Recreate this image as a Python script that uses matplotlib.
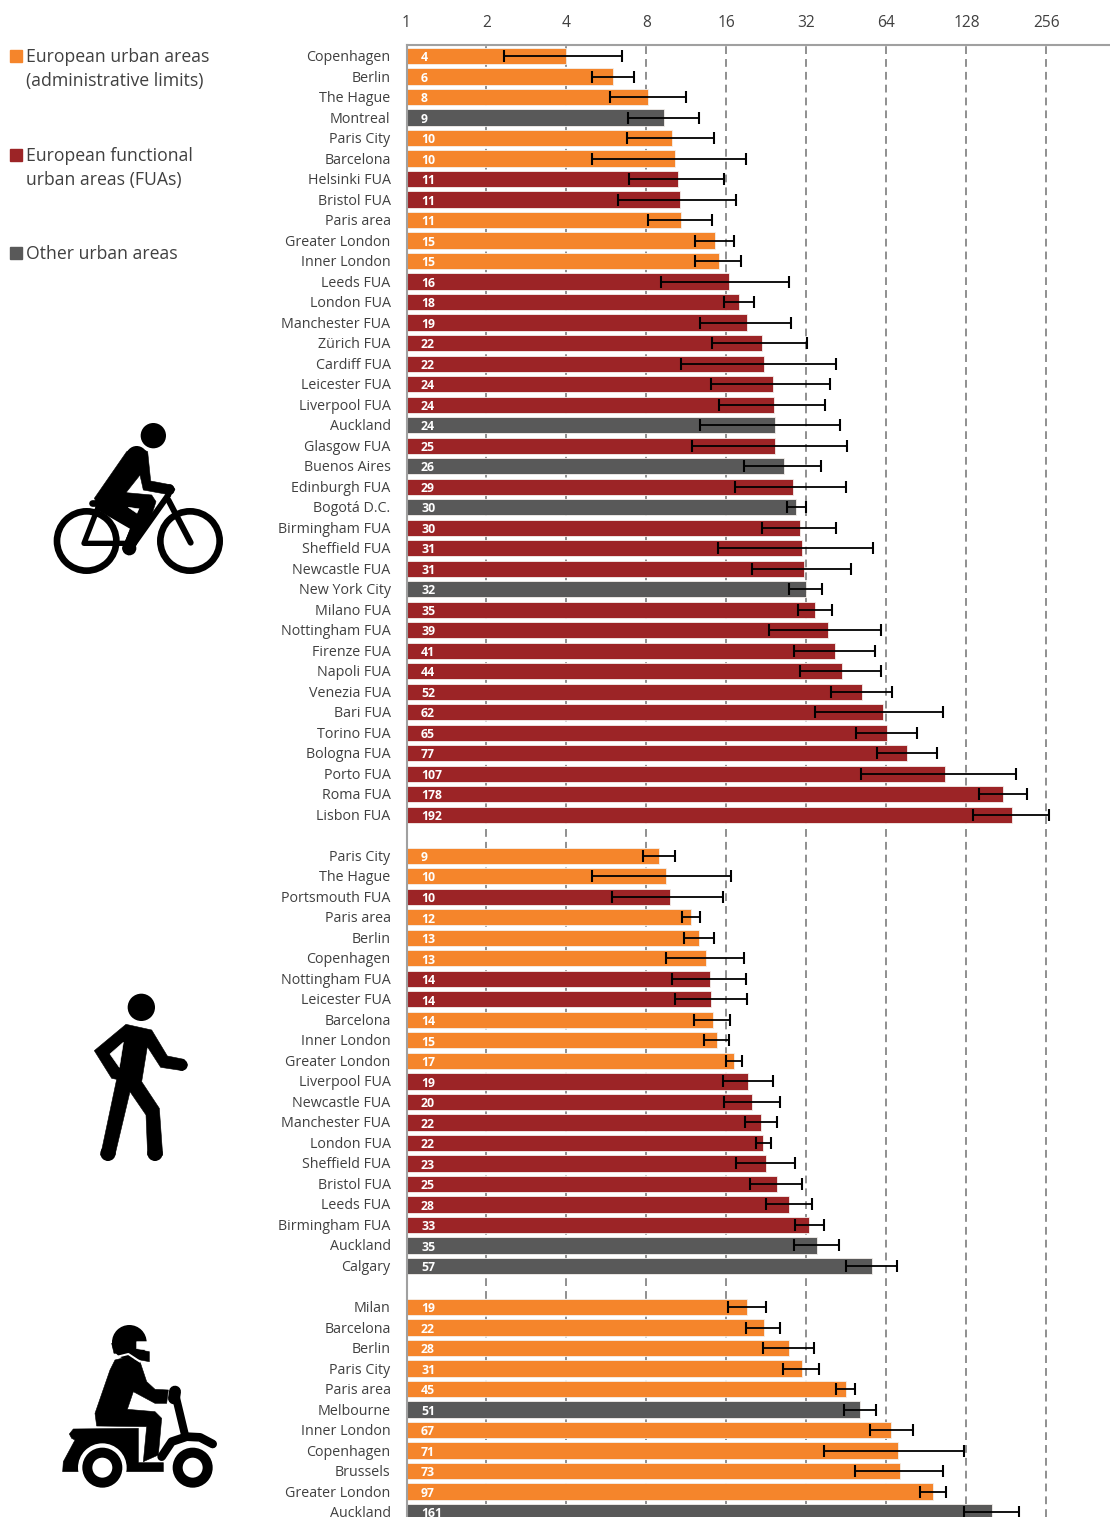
from matplotlib import pyplot as plt
from matplotlib.patches import Circle, Polygon, Rectangle
from matplotlib.ticker import FixedLocator, FixedFormatter, NullLocator
from matplotlib.transforms import ScaledTranslation

plt.rcParams["font.family"] = ["Open Sans", "DejaVu Sans"]

ticks = [1, 2, 4, 8, 16, 32, 64, 128, 256]

# a = European administrative limits, f = European FUA, o = other urban areas
bike_names = ["Copenhagen", "Berlin", "The Hague", "Montreal", "Paris City", "Barcelona", "Helsinki FUA",
              "Bristol FUA", "Paris area", "Greater London", "Inner London", "Leeds FUA", "London FUA",
              "Manchester FUA", "Zürich FUA", "Cardiff FUA", "Leicester FUA", "Liverpool FUA", "Auckland",
              "Glasgow FUA", "Buenos Aires", "Edinburgh FUA", "Bogotá D.C.", "Birmingham FUA", "Sheffield FUA",
              "Newcastle FUA", "New York City", "Milano FUA", "Nottingham FUA", "Firenze FUA", "Napoli FUA",
              "Venezia FUA", "Bari FUA", "Torino FUA", "Bologna FUA", "Porto FUA", "Roma FUA", "Lisbon FUA"]
bike_types = list("aaaoaaffaaafffffffofofofffofffffffffff")
bike_labels = [4, 6, 8, 9, 10, 10, 11, 11, 11, 15, 15, 16, 18, 19, 22, 22, 24, 24, 24, 25, 26, 29, 30, 30, 31,
               31, 32, 35, 39, 41, 44, 52, 62, 65, 77, 107, 178, 192]
bike_values = [3.98, 5.98, 8.1, 9.31, 9.98, 10.2, 10.5, 10.7, 10.8, 14.5, 15, 16.4, 17.8, 19.1, 21.8, 22.1,
               23.9, 24.1, 24.4, 24.4, 26.3, 28.5, 29.2, 30.2, 30.8, 31.3, 31.9, 34.4, 38.6, 41, 43.5, 51.8,
               62.1, 64.3, 76.4, 106, 176, 190]
bike_low = [2.33, 4.99, 5.83, 6.84, 6.76, 4.99, 6.87, 6.25, 8.1, 12.2, 12.2, 9.07, 15.7, 12.7, 14.1, 10.8, 14,
            15, 12.7, 11.9, 18.6, 17.2, 27, 21.8, 14.9, 20, 27.5, 29.7, 23.1, 28.7, 30.2, 39.6, 34.4, 49.1,
            58.9, 51.3, 143, 135]
bike_high = [6.47, 7.18, 11.3, 12.6, 14.4, 18.9, 15.7, 17.4, 14.1, 17.1, 18.1, 27.5, 20.3, 28, 32.1, 41.3, 39.2,
             37.6, 42.8, 45.5, 36.3, 45.1, 31.9, 41.3, 56.9, 47.1, 36.6, 39.9, 61, 57.9, 61, 67.1, 104, 83.4,
             99.1, 197, 216, 262]

walk_names = ["Paris City", "The Hague", "Portsmouth FUA", "Paris area", "Berlin", "Copenhagen", "Nottingham FUA",
              "Leicester FUA", "Barcelona", "Inner London", "Greater London", "Liverpool FUA", "Newcastle FUA",
              "Manchester FUA", "London FUA", "Sheffield FUA", "Bristol FUA", "Leeds FUA", "Birmingham FUA",
              "Auckland", "Calgary"]
walk_types = list("aafaaaffaaaffffffffoo")
walk_labels = [9, 10, 10, 12, 13, 13, 14, 14, 14, 15, 17, 19, 20, 22, 22, 23, 25, 28, 33, 35, 57]
walk_values = [8.92, 9.47, 9.81, 11.8, 12.6, 13.4, 13.9, 14, 14.2, 14.7, 17.1, 19.3, 20, 21.6, 22, 22.5, 24.8,
               27.5, 32.7, 35, 56.4]
walk_low = [7.76, 4.99, 5.93, 10.9, 11.1, 9.47, 9.98, 10.2, 12.1, 13.2, 15.9, 15.5, 15.7, 18.8, 20.7, 17.4, 19.6,
            22.5, 29, 28.7, 45.1]
walk_high = [10.2, 16.6, 15.5, 12.7, 14.4, 18.6, 18.9, 19.1, 16.5, 16.4, 18.3, 23.9, 25.4, 24.8, 23.5, 29, 30.8,
             33.6, 37.2, 42.4, 70.1]

moto_names = ["Milan", "Barcelona", "Berlin", "Paris City", "Paris area", "Melbourne", "Inner London", "Copenhagen",
              "Brussels", "Greater London", "Auckland"]
moto_types = list("aaaaaoaaaao")
moto_labels = [19, 22, 28, 31, 45, 51, 67, 71, 73, 97, 161]
moto_values = [19.1, 22.1, 27.5, 30.8, 45.1, 50.9, 66.5, 70.7, 71.9, 95.8, 160]
moto_low = [16.2, 18.9, 22, 26.1, 41.3, 44.3, 55.5, 37.2, 48.7, 85.6, 125]
moto_high = [22.5, 25.4, 34.1, 35.7, 48.7, 58.4, 80.5, 125, 104, 107, 202]

colors = {"a": "#F5852B", "f": "#9C2426", "o": "#595959"}
text_color = "#404040"
PX = 0.72  # one pixel in points at dpi 100

# one blank row between the three groups
names = bike_names + [""] + walk_names + [""] + moto_names
types = bike_types + [None] + walk_types + [None] + moto_types
labels = bike_labels + [None] + walk_labels + [None] + moto_labels
values = bike_values + [None] + walk_values + [None] + moto_values
low = bike_low + [None] + walk_low + [None] + moto_low
high = bike_high + [None] + walk_high + [None] + moto_high
rows = list(range(len(names)))

fig = plt.figure(figsize=(11.1, 15.17), dpi=100)
ax = fig.add_axes([406.5 / 1110, 0, 703.5 / 1110, (1517 - 45) / 1517])
ax.set_xscale("log", base=2)
ax.set_xlim(1, 443.9)
ax.set_ylim(71.24, -0.536)

for i in rows:
    if values[i] is None:
        continue
    ax.barh(i, values[i] - 1, left=1, height=0.79, color=colors[types[i]], edgecolor="#f4f0ec",
            linewidth=0.6, zorder=2)
    ax.errorbar(values[i], i, xerr=[[values[i] - low[i]], [high[i] - values[i]]], color="black",
                elinewidth=1.3, capsize=4.6, capthick=1.5, zorder=3)
    ax.annotate(str(labels[i]), (1, i), xytext=(14.5 * PX, -1.2), textcoords="offset points", color="white",
                fontsize=8.8, fontweight="bold", va="center", ha="left", zorder=4)

ax.xaxis.set_major_locator(FixedLocator(ticks))
ax.xaxis.set_major_formatter(FixedFormatter([str(t) for t in ticks]))
ax.xaxis.set_minor_locator(NullLocator())
ax.xaxis.tick_top()
ax.tick_params(axis="x", length=0, pad=10, labelsize=11.2, labelcolor=text_color)
ax.set_yticks(rows)
ax.set_yticklabels(names)
ax.tick_params(axis="y", length=0, pad=11.5, labelsize=10.3, labelcolor=text_color)
for lab in ax.get_yticklabels():
    lab.set_transform(lab.get_transform() + ScaledTranslation(0, 0.5 / 100, fig.dpi_scale_trans))
ax.grid(axis="x", color="#8f8f8f", linewidth=1.4, linestyle=(0, (4, 2.6)), zorder=1)
ax.set_axisbelow(True)
for side in ["right", "bottom"]:
    ax.spines[side].set_visible(False)
for side in ["top", "left"]:
    ax.spines[side].set_color("#a0a0a0")
    ax.spines[side].set_linewidth(1.5)
    ax.spines[side].set_zorder(5)

# overlay in image pixels for the legend and the icons
over = fig.add_axes([0, 0, 1, 1], facecolor="none")
over.set_xlim(0, 1110)
over.set_ylim(1517, 0)
over.axis("off")


def legend_entry(y, color, lines):
    over.add_patch(Rectangle((10, y - 6), 12, 12, color=color))
    for k, line in enumerate(lines):
        over.text(26, y + 0.8 + k * 24.5, line, fontsize=12.7, color=text_color, va="center", ha="left")


legend_entry(56, colors["a"], ["European urban areas", "(administrative limits)"])
legend_entry(155, colors["f"], ["European functional", "urban areas (FUAs)"])
legend_entry(253, colors["o"], ["Other urban areas"])


# icon outlines were traced on 3x crops, (ox, oy) is the crop corner
def pts(pairs, ox, oy):
    return [(ox + x / 3, oy + y / 3) for x, y in pairs]


def shape(pairs, ox, oy, color="black"):
    over.add_patch(Polygon(pts(pairs, ox, oy), closed=True, facecolor=color, edgecolor=color,
                           linewidth=0.4, joinstyle="round"))


def stroke(pairs, ox, oy, width, color="black"):
    xy = pts(pairs, ox, oy)
    over.plot([p[0] for p in xy], [p[1] for p in xy], color=color, linewidth=width / 3 * PX,
              solid_capstyle="round", solid_joinstyle="round")


def disc(x, y, r, ox, oy, color="black", lw=0.0, fill=True):
    over.add_patch(Circle((ox + x / 3, oy + y / 3), r / 3, facecolor=color if fill else "none",
                          edgecolor="black" if not fill else color, linewidth=lw / 3 * PX))


# bicycle
ox, oy = 0, 400
disc(460, 107, 38, ox, oy)
disc(260, 423, 89, ox, oy, lw=20, fill=False)
disc(570, 423, 89, ox, oy, lw=20, fill=False)
stroke([(295, 320), (252, 430), (385, 430)], ox, oy, 16)
stroke([(295, 322), (395, 380)], ox, oy, 16)
stroke([(275, 310), (300, 310)], ox, oy, 20)
stroke([(505, 285), (395, 440)], ox, oy, 18)
stroke([(505, 300), (572, 428)], ox, oy, 18)
stroke([(385, 445), (440, 320)], ox, oy, 36)
shape([(380, 155), (410, 140), (443, 155), (452, 243), (515, 255), (525, 268), (512, 285), (430, 270),
       (420, 225), (378, 278), (455, 285), (468, 305), (455, 345), (400, 450), (385, 465), (368, 445),
       (395, 375), (300, 325), (283, 295)], ox, oy)
disc(410, 170, 32, ox, oy)
disc(508, 269, 16, ox, oy)
disc(388, 445, 21, ox, oy)
shape([(385, 322), (420, 327), (416, 343)], ox, oy, "white")

# pedestrian
ox, oy = 40, 980
disc(304, 82, 41, ox, oy)
shape([(258, 133), (335, 150), (382, 228), (432, 238), (442, 255), (428, 272), (362, 262), (322, 200),
       (305, 305), (358, 385), (368, 525), (345, 542), (323, 525), (318, 405), (270, 335), (225, 525),
       (203, 542), (182, 525), (230, 298), (215, 295), (163, 212)], ox, oy)
disc(426, 255, 17, ox, oy)
disc(345, 520, 23, ox, oy)
disc(204, 520, 23, ox, oy)
shape([(250, 187), (210, 222), (238, 262)], ox, oy, "white")

# scooter
ox, oy = 40, 1310
shape([(225, 150), (265, 140), (300, 155), (320, 215), (345, 238), (385, 240), (380, 280), (345, 280),
       (280, 245), (262, 298), (345, 305), (365, 325), (355, 435), (310, 455), (320, 350), (170, 348),
       (165, 310), (210, 180)], ox, oy)
stroke([(225, 142), (265, 132), (300, 155)], ox, oy, 6, "white")
disc(268, 97, 52, ox, oy)
shape([(215, 100), (222, 130), (265, 128), (290, 148), (328, 155), (328, 125), (290, 118)], ox, oy)
shape([(290, 95), (340, 95), (340, 123), (290, 116)], ox, oy, "white")
shape([(88, 372), (100, 357), (295, 355), (295, 458), (370, 458), (370, 485), (115, 485), (68, 485),
       (70, 455), (105, 390), (95, 385)], ox, oy)
stroke([(405, 250), (435, 375)], ox, oy, 24)
stroke([(405, 245), (402, 265)], ox, oy, 36)
stroke([(365, 440), (395, 395), (440, 380), (480, 382), (518, 402)], ox, oy, 26)
disc(187, 473, 73, ox, oy, color="white")
disc(187, 473, 45, ox, oy, lw=30, fill=False)
disc(458, 473, 73, ox, oy, color="white")
disc(458, 473, 45, ox, oy, lw=30, fill=False)

fig.savefig("out.png", dpi=100)
